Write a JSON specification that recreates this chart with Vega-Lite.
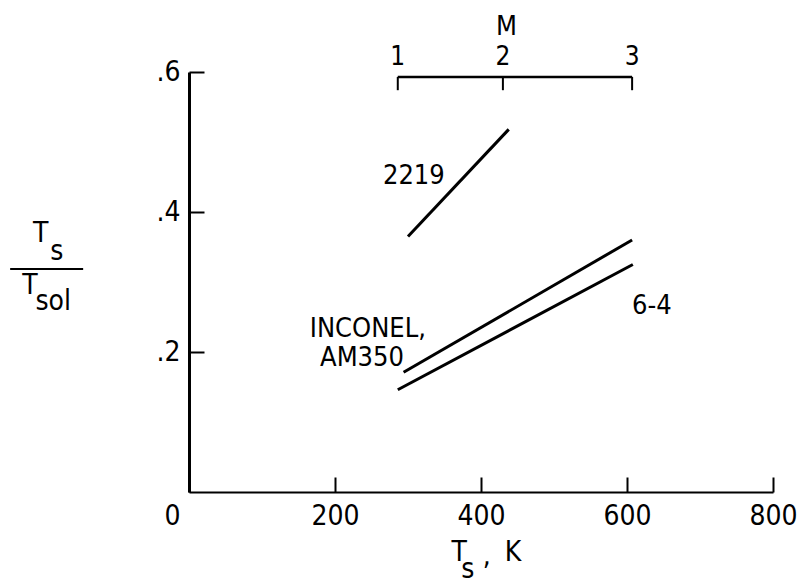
{
  "$schema": "https://vega.github.io/schema/vega-lite/v6.json",
  "autosize": "none",
  "width": 584,
  "height": 420,
  "padding": {"left": 189, "top": 72, "right": 24, "bottom": 93},
  "background": "white",
  "config": {
    "view": {"stroke": null},
    "font": "Liberation Sans Narrow, DejaVu Sans Condensed, Roboto, sans-serif",
    "axis": {"grid": false, "domainColor": "black", "tickColor": "black", "labelColor": "black", "labelFont": "Liberation Sans Narrow, DejaVu Sans Condensed, Roboto, sans-serif", "labelFontSize": 28, "title": null}
  },
  "datasets": {
    "curves": [
      {"material": "2219", "Ts": 300, "ratio": 0.365},
      {"material": "2219", "Ts": 438, "ratio": 0.518},
      {"material": "INCONEL, AM350", "Ts": 294, "ratio": 0.171},
      {"material": "INCONEL, AM350", "Ts": 607, "ratio": 0.360},
      {"material": "6-4", "Ts": 286, "ratio": 0.146},
      {"material": "6-4", "Ts": 608, "ratio": 0.325}
    ],
    "mach": [
      {"M": "1", "Ts": 286},
      {"M": "2", "Ts": 430},
      {"M": "3", "Ts": 607}
    ],
    "machLine": [{"from": 286, "to": 607, "ratio": 0.593}],
    "notes": [
      {"text": "2219", "Ts": 308, "ratio": 0.451},
      {"text": "INCONEL,", "Ts": 245, "ratio": 0.233},
      {"text": "AM350", "Ts": 237, "ratio": 0.192},
      {"text": "6-4", "Ts": 634, "ratio": 0.266},
      {"text": "M", "Ts": 435, "ratio": 0.664}
    ],
    "titles": [
      {"text": "T", "Ts": -203, "ratio": 0.369},
      {"text": "s", "Ts": -181, "ratio": 0.343},
      {"text": "T", "Ts": -218, "ratio": 0.294},
      {"text": "sol", "Ts": -186, "ratio": 0.272},
      {"text": "T", "Ts": 370, "ratio": -0.087},
      {"text": "s", "Ts": 382, "ratio": -0.112},
      {"text": ",", "Ts": 408, "ratio": -0.093},
      {"text": "K", "Ts": 444, "ratio": -0.087}
    ],
    "fraction": [{"from": -245, "to": -145, "ratio": 0.3186}]
  },
  "layer": [
    {
      "data": {"name": "curves"},
      "mark": {"type": "line", "color": "black", "strokeWidth": 3, "clip": false},
      "encoding": {
        "x": {"field": "Ts", "type": "quantitative", "scale": {"domain": [0, 800], "nice": false, "zero": false},
          "axis": {"values": [0, 200, 400, 600, 800], "tickSize": -15, "tickWidth": 2, "domainWidth": 2, "labelPadding": 25,
            "labelAlign": {"condition": {"test": "datum.value === 0", "value": "right"}, "value": "center"},
            "labelOffset": {"condition": {"test": "datum.value === 0", "value": -9}, "value": 0}}},
        "y": {"field": "ratio", "type": "quantitative", "scale": {"domain": [0, 0.6], "nice": false},
          "axis": {"values": [0.2, 0.4, 0.6], "tickSize": -15, "tickWidth": 2, "domainWidth": 3, "labelPadding": 24,
            "labelExpr": "'.' + round(datum.value * 10)"}},
        "detail": {"field": "material", "type": "nominal"}
      }
    },
    {
      "data": {"name": "machLine"},
      "mark": {"type": "rule", "color": "black", "strokeWidth": 2.5, "clip": false},
      "encoding": {
        "x": {"field": "from", "type": "quantitative"},
        "x2": {"field": "to"},
        "y": {"field": "ratio", "type": "quantitative"}
      }
    },
    {
      "data": {"name": "mach"},
      "mark": {"type": "rule", "color": "black", "strokeWidth": 2, "clip": false},
      "encoding": {
        "x": {"field": "Ts", "type": "quantitative"},
        "y": {"datum": 0.593, "type": "quantitative"},
        "y2": {"datum": 0.574}
      }
    },
    {
      "data": {"name": "mach"},
      "mark": {"type": "text", "color": "black", "fontSize": 26, "baseline": "middle", "align": "center", "clip": false},
      "encoding": {
        "x": {"field": "Ts", "type": "quantitative"},
        "y": {"datum": 0.621, "type": "quantitative"},
        "text": {"field": "M"}
      }
    },
    {
      "data": {"name": "notes"},
      "mark": {"type": "text", "color": "black", "fontSize": 27, "baseline": "middle", "align": "center", "clip": false},
      "encoding": {
        "x": {"field": "Ts", "type": "quantitative"},
        "y": {"field": "ratio", "type": "quantitative"},
        "text": {"field": "text"}
      }
    },
    {
      "data": {"name": "titles"},
      "mark": {"type": "text", "color": "black", "fontSize": 28, "baseline": "middle", "align": "center", "clip": false},
      "encoding": {
        "x": {"field": "Ts", "type": "quantitative"},
        "y": {"field": "ratio", "type": "quantitative"},
        "text": {"field": "text"}
      }
    },
    {
      "data": {"name": "fraction"},
      "mark": {"type": "rule", "color": "black", "strokeWidth": 2, "clip": false},
      "encoding": {
        "x": {"field": "from", "type": "quantitative"},
        "x2": {"field": "to"},
        "y": {"field": "ratio", "type": "quantitative"}
      }
    }
  ]
}
